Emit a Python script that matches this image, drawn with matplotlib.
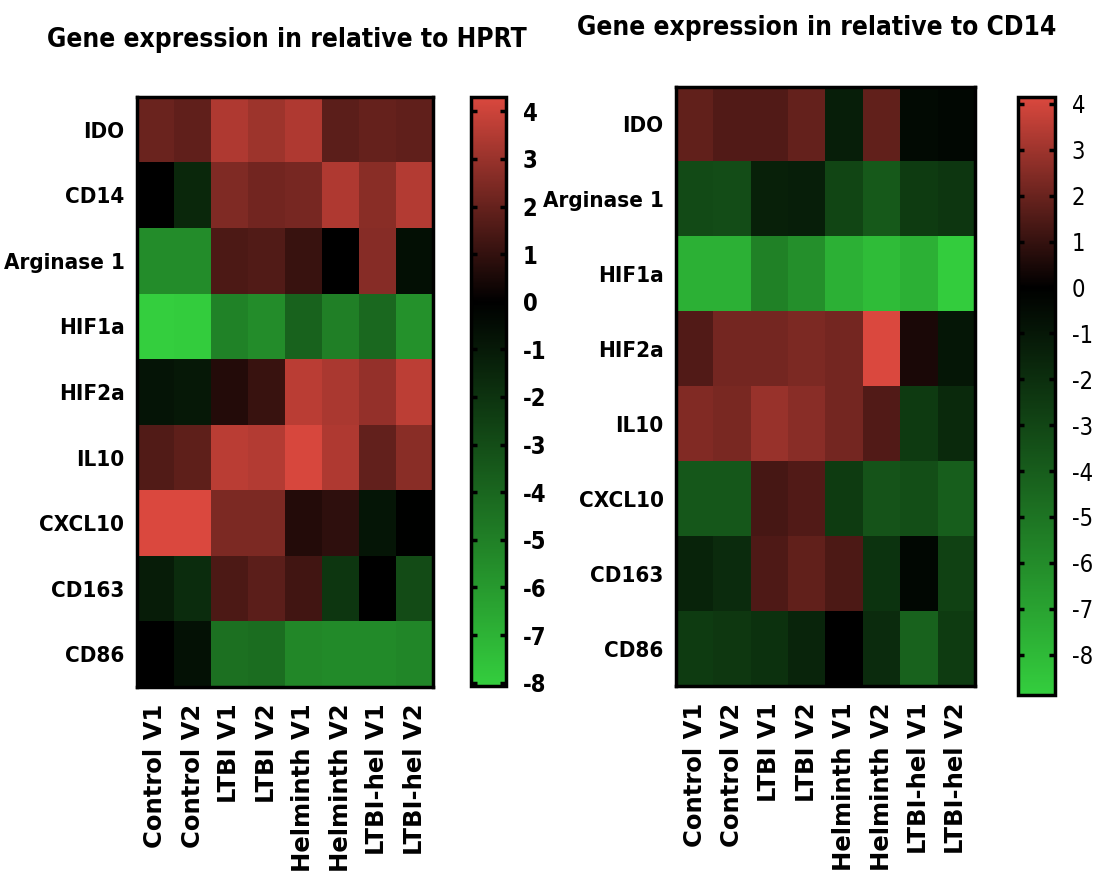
import matplotlib
matplotlib.use("Agg")
import matplotlib.pyplot as plt
import numpy as np
from matplotlib.colors import LinearSegmentedColormap, Normalize
from matplotlib import font_manager
from matplotlib.font_manager import FontProperties

samples = ["Control V1", "Control V2", "LTBI V1", "LTBI V2",
           "Helminth V1", "Helminth V2", "LTBI-hel V1", "LTBI-hel V2"]

genes_hprt = ["IDO", "CD14", "Arginase 1", "HIF1a", "HIF2a", "IL10", "CXCL10", "CD163", "CD86"]
ido_hprt = [2.1, 1.9, 3.45, 3.1, 3.45, 1.8, 2.0, 1.9]
cd14_hprt = [0.0, -1.55, 2.5, 2.25, 2.35, 3.45, 2.7, 3.55]
arg1_hprt = [-5.5, -5.5, 1.5, 1.6, 1.1, 0.0, 2.65, -0.6]
hif1a_hprt = [-8.07, -8.0, -5.1, -5.5, -3.85, -5.0, -4.1, -5.7]
hif2a_hprt = [-0.8, -0.95, 0.7, 1.1, 3.65, 3.35, 2.9, 3.7]
il10_hprt = [1.6, 1.85, 3.65, 3.55, 4.25, 3.45, 1.95, 2.7]
cxcl10_hprt = [4.3, 4.3, 2.45, 2.45, 0.7, 0.9, -0.85, -0.05]
cd163_hprt = [-1.1, -1.75, 1.5, 1.8, 1.3, -2.15, 0.0, -2.95]
cd86_hprt = [0.0, -0.7, -4.4, -4.3, -5.3, -5.4, -5.4, -5.25]

genes_cd14 = ["IDO", "Arginase 1", "HIF1a", "HIF2a", "IL10", "CXCL10", "CD163", "CD86"]
ido_cd14 = [1.85, 1.55, 1.55, 1.9, -1.3, 1.85, -0.45, -0.35]
arg1_cd14 = [-3.2, -3.3, -1.4, -1.3, -3.0, -3.85, -2.55, -2.35]
hif1a_cd14 = [-7.6, -7.6, -5.55, -6.2, -7.6, -8.1, -7.6, -8.8]
hif2a_cd14 = [1.55, 2.2, 2.2, 2.35, 2.2, 4.15, 0.5, -0.95]
il10_cd14 = [2.45, 2.3, 2.9, 2.6, 2.2, 1.55, -2.5, -1.8]
cxcl10_cd14 = [-3.75, -3.75, 1.35, 1.55, -2.55, -3.6, -3.4, -4.05]
cd163_cd14 = [-1.55, -1.9, 1.5, 1.85, 1.45, -2.2, -0.35, -2.8]
cd86_cd14 = [-2.55, -2.4, -2.15, -1.6, 0.0, -1.9, -4.25, -2.55]

cbar_ticks = [4, 3, 2, 1, 0, -1, -2, -3, -4, -5, -6, -7, -8]

W, H = 1098, 872
fig = plt.figure(figsize=(W / 100, H / 100), dpi=100)


# ---- pick a narrow sans font if one is installed ----
def _w(f):
    w = f.weight
    if isinstance(w, str):
        return {"bold": 700, "heavy": 800, "black": 900, "semibold": 600,
                "demibold": 600}.get(w.lower(), 400)
    return int(w)


def find_narrow(bold):
    best = None
    for f in font_manager.fontManager.ttflist:
        st = str(f.stretch).lower()
        nm = f.name.lower()
        cond = ("condensed" in st or "narrow" in nm or "condensed" in nm
                or (st.isdigit() and int(st) < 100))
        if not cond or f.style != "normal":
            continue
        if "mono" in nm or "serif" in nm and "sans" not in nm:
            continue
        wt = _w(f)
        if bold and not (600 <= wt <= 800):
            continue
        if not bold and not (350 <= wt <= 500):
            continue
        score = abs(wt - (700 if bold else 400))
        if "extra" in st or "ultra" in st:
            score += 50
        if best is None or score < best[0]:
            best = (score, f.fname)
    return best[1] if best else None


nb = find_narrow(True)
nr = find_narrow(False)
FP_BOLD = FontProperties(fname=nb) if nb else FontProperties(family=["Liberation Sans", "DejaVu Sans"], weight="bold")
FP_REG = FontProperties(fname=nr) if nr else FontProperties(family=["Liberation Sans", "DejaVu Sans"], weight="normal")
WIDE = FontProperties(family=["DejaVu Sans"], weight="bold")

renderer = fig.canvas.get_renderer()


def fit_size(text, fp, target_px, start=20.0):
    p = fp.copy()
    p.set_size(start)
    t = fig.text(0, 0, text, fontproperties=p)
    w = t.get_window_extent(renderer).width
    t.remove()
    return start * target_px / w


S_TITLE = fit_size("Gene expression in relative to HPRT", FP_BOLD, 479)
S_ROW = fit_size("Arginase 1", FP_BOLD, 121)
S_CB_B = 17
S_CB_R = 17

GREEN = (52 / 255, 206 / 255, 62 / 255)
RED = (218 / 255, 72 / 255, 62 / 255)


def make_cmap(vmin, vmax):
    z = (0 - vmin) / (vmax - vmin)
    return LinearSegmentedColormap.from_list(
        "gkr", [(0.0, GREEN), (z, (0, 0, 0)), (1.0, RED)], N=512)


def fr(x0, y0, x1, y1):
    return [x0 / W, 1 - y1 / H, (x1 - x0) / W, (y1 - y0) / H]


def withsize(fp, s):
    p = fp.copy()
    p.set_size(s)
    return p


def panel(ax_rect, cax_rect, rows, genes, vmin, vmax, bold_cbar, title, title_xy):
    ax = fig.add_axes(fr(*ax_rect))
    data = np.array(rows)
    cmap = make_cmap(vmin, vmax)
    norm = Normalize(vmin=vmin, vmax=vmax)
    im = ax.imshow(data, cmap=cmap, norm=norm, aspect="auto", interpolation="nearest")
    ax.set_xticks(range(len(samples)))
    ax.set_xticklabels(samples, rotation=90, fontproperties=withsize(WIDE, 17.5), va="top")
    ax.set_yticks(range(len(genes)))
    ax.set_yticklabels(genes, fontproperties=withsize(FP_BOLD, S_ROW))
    ax.tick_params(axis="both", length=0)
    ax.tick_params(axis="x", pad=12)
    ax.tick_params(axis="y", pad=9)
    for s in ax.spines.values():
        s.set_linewidth(2.5)
    cax = fig.add_axes(fr(*cax_rect))
    cb = fig.colorbar(im, cax=cax)
    cb.set_ticks(cbar_ticks)
    cb.set_ticklabels([str(t) for t in cbar_ticks])
    cax.tick_params(direction="in", left=True, right=True, length=4, width=2.5,
                    pad=12)
    fp = withsize(FP_BOLD, S_CB_B) if bold_cbar else withsize(FP_REG, S_CB_R)
    for lab in cax.get_yticklabels():
        lab.set_fontproperties(fp)
    cb.outline.set_linewidth(2.5)
    fig.text(title_xy[0] / W, 1 - title_xy[1] / H, title, ha="center", va="baseline",
             fontproperties=withsize(FP_BOLD, S_TITLE))


rows_hprt = [ido_hprt, cd14_hprt, arg1_hprt, hif1a_hprt, hif2a_hprt,
             il10_hprt, cxcl10_hprt, cd163_hprt, cd86_hprt]
rows_cd14 = [ido_cd14, arg1_cd14, hif1a_cd14, hif2a_cd14, il10_cd14,
             cxcl10_cd14, cd163_cd14, cd86_cd14]

panel((137, 97, 433, 687), (471, 97, 506, 686), rows_hprt, genes_hprt,
      -8.07, 4.3, True, "Gene expression in relative to HPRT", (287, 47))
panel((676, 87, 975, 686), (1018, 97, 1055, 695), rows_cd14, genes_cd14,
      -8.88, 4.15, False, "Gene expression in relative to CD14", (817, 35))

fig.savefig("out.png", dpi=100)
